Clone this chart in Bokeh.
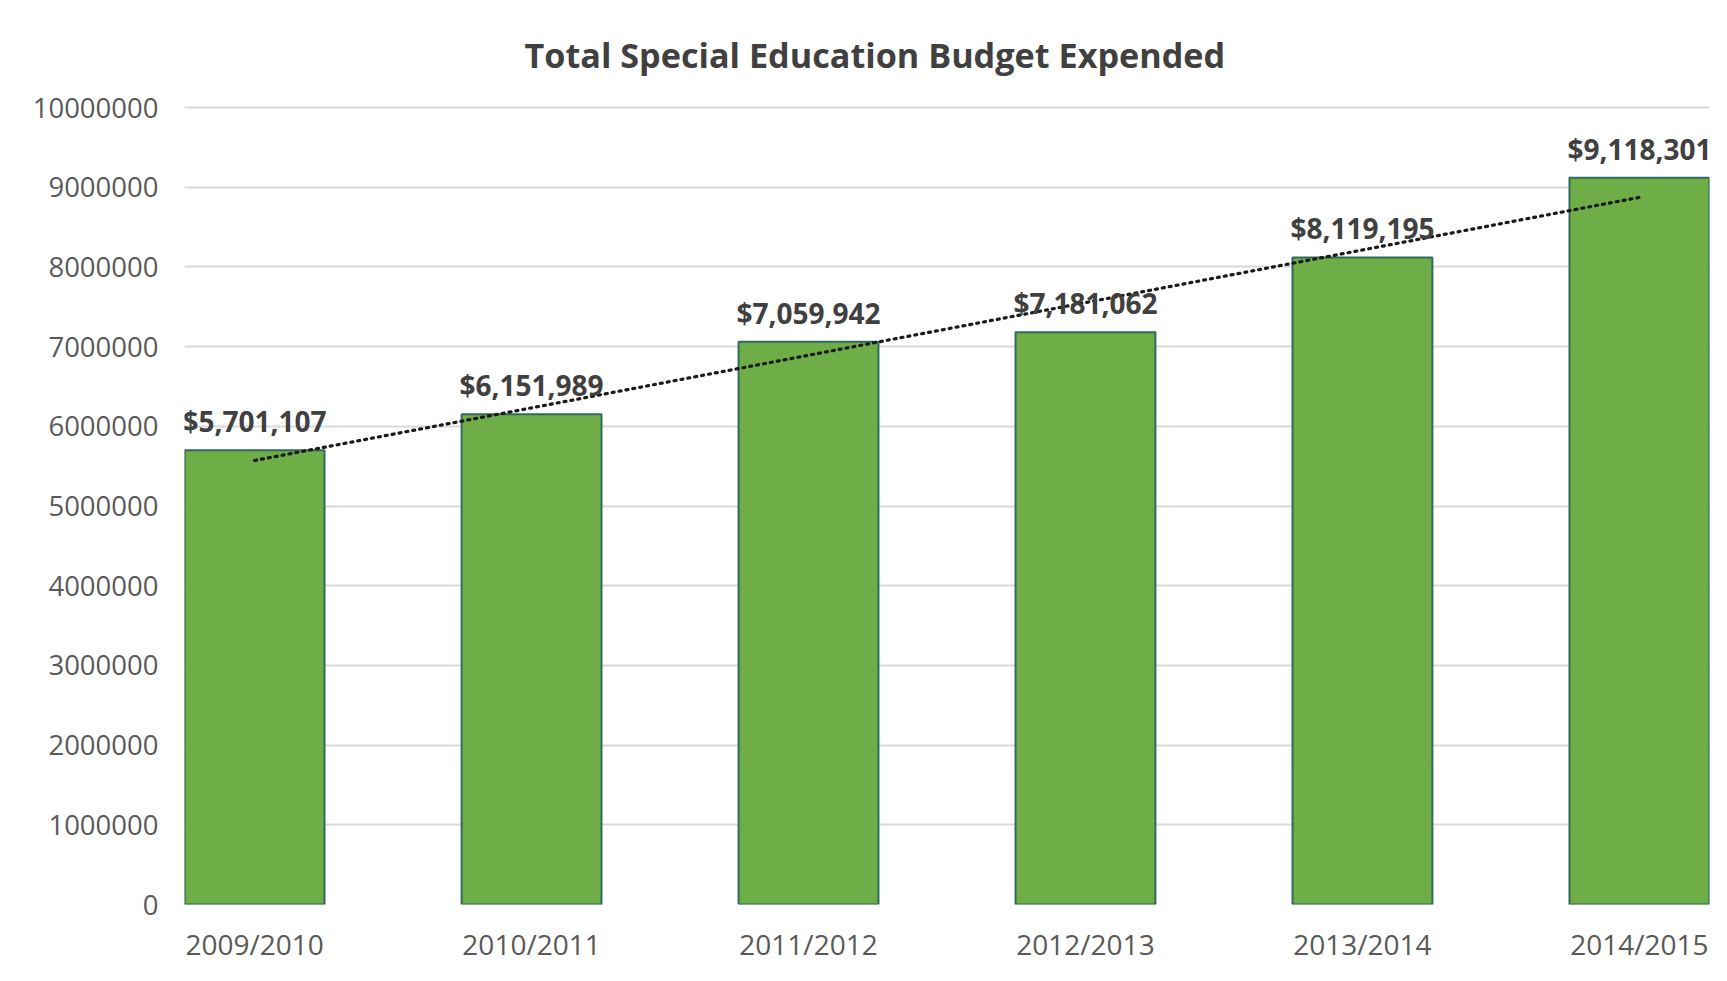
from bokeh.plotting import figure
from bokeh.models import ColumnDataSource, FixedTicker, NumeralTickFormatter, Range1d
from bokeh.core.properties import value
from bokeh.embed import file_html
from bokeh.resources import INLINE

# ---- data ----
categories = ["2009/2010", "2010/2011", "2011/2012", "2012/2013", "2013/2014", "2014/2015"]
budget = [5701107, 6151989, 7059942, 7181062, 8119195, 9118301]
labels = ["$5,701,107", "$6,151,989", "$7,059,942", "$7,181,062", "$8,119,195", "$9,118,301"]
trend_x_idx = [0, 5]
trend_y = [5571000, 8873000]
y_ticks = [0, 1000000, 2000000, 3000000, 4000000, 5000000, 6000000, 7000000, 8000000, 9000000, 10000000]

FONT = "Open Sans"

xs = list(range(len(categories)))
src = ColumnDataSource(dict(x=xs, top=budget, label=labels))

p = figure(width=1711, height=965, output_backend="svg", toolbar_location=None,
           x_range=Range1d(-0.253, 5.253), y_range=Range1d(0, 10063000),
           min_border_left=184, min_border_right=2, min_border_top=102, min_border_bottom=61)

p.title.text = "Total Special Education Budget Expended"
p.title.text_font = FONT
p.title.text_font_size = "34.2px"
p.title.text_font_style = "bold"
p.title.text_color = "#404040"
p.title.align = "left"
p.title.offset = 340
p.title.standoff = 50

p.vbar(x="x", top="top", width=0.505, source=src,
       fill_color="#6fad47", line_color="#2f6b5e", line_width=2)

p.line(x=[xs[i] for i in trend_x_idx], y=trend_y, line_color="#1a1a1a",
       line_width=3.2, line_dash="2 5", line_cap="round")

p.text(x="x", y="top", text="label", source=src, text_align="center",
       text_baseline="middle", y_offset=-29, text_font=value(FONT),
       text_font_size="28px", text_font_style="bold", text_color="#404040")

# axes
p.yaxis.ticker = FixedTicker(ticks=y_ticks)
p.yaxis.formatter = NumeralTickFormatter(format="0")
p.yaxis.axis_line_color = None
p.yaxis.major_tick_line_color = None
p.yaxis.minor_tick_line_color = None
p.yaxis.major_label_standoff = 20
p.yaxis.major_label_text_font = FONT
p.yaxis.major_label_text_font_size = "27.5px"
p.yaxis.major_label_text_color = "#595959"

p.xaxis.ticker = FixedTicker(ticks=xs)
p.xaxis.major_label_overrides = {i: c for i, c in zip(xs, categories)}
p.xaxis.axis_line_color = None
p.xaxis.major_tick_line_color = None
p.xaxis.minor_tick_line_color = None
p.xaxis.major_label_standoff = 14
p.xaxis.major_label_text_font = FONT
p.xaxis.major_label_text_font_size = "28px"
p.xaxis.major_label_text_color = "#595959"

p.xgrid.grid_line_color = None
p.ygrid.grid_line_color = "#d9d9d9"
p.ygrid.grid_line_width = 2
p.outline_line_color = None
p.background_fill_color = "white"
p.border_fill_color = "white"

open("out.html", "w").write(file_html(p, INLINE))
